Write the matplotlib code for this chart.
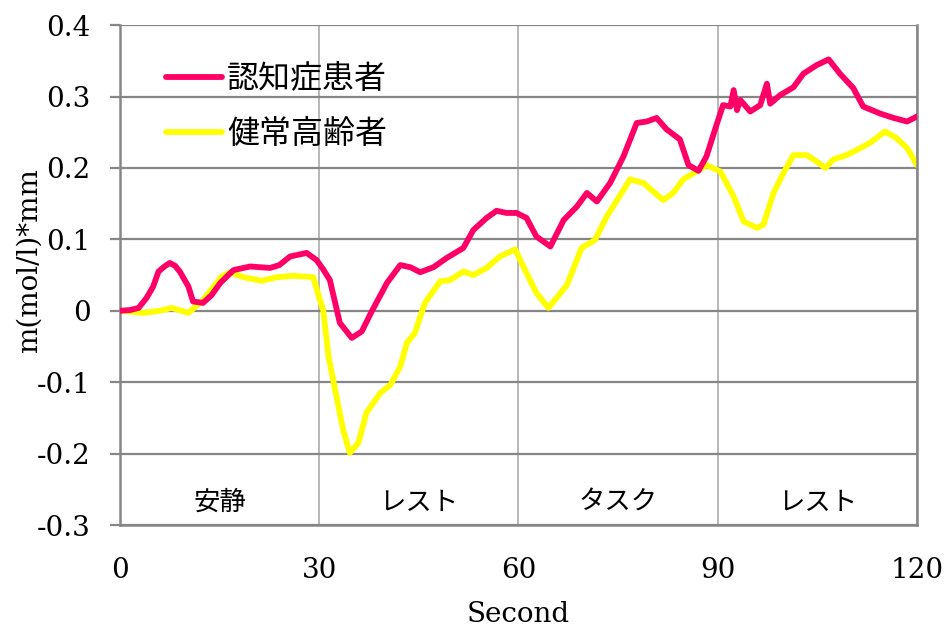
import matplotlib
matplotlib.use("Agg")
import matplotlib.pyplot as plt
import matplotlib.transforms as mtransforms

plt.rcParams["font.family"] = ["DejaVu Serif", "Noto Sans CJK JP", "DejaVu Sans"]

# time (s) / signal for each group
patient_t = [0, 1.5, 2.8, 4.0, 5.0, 5.8, 6.7, 7.5, 8.3, 9.0, 10.3, 11.0, 12.5, 13.8,
             15.1, 17.1, 19.6, 22.6, 24.0, 25.6, 28.1, 29.6, 30.6, 31.6, 33.1, 34.9,
             36.4, 37.9, 40.2, 42.2, 43.7, 45.2, 47.2, 49.2, 51.7, 53.2, 55.2, 56.7,
             58.2, 59.7, 61.2, 62.7, 64.8, 66.8, 68.8, 70.3, 71.8, 73.8, 75.8, 77.8,
             79.3, 80.8, 82.3, 84.3, 85.6, 87.1, 88.3, 89.6, 90.8, 91.9, 92.4, 92.9,
             93.4, 94.9, 96.4, 97.4, 97.9, 99.4, 101.4, 102.9, 104.9, 106.7, 108.4,
             110.4, 111.9, 114.5, 116.5, 118.5, 120]
patient_y = [0, 0.001, 0.004, 0.018, 0.034, 0.055, 0.062, 0.067, 0.063, 0.055, 0.034,
             0.013, 0.011, 0.022, 0.039, 0.057, 0.062, 0.060, 0.064, 0.076, 0.081,
             0.071, 0.058, 0.043, -0.017, -0.038, -0.029, -0.001, 0.039, 0.064, 0.061,
             0.054, 0.061, 0.074, 0.088, 0.113, 0.130, 0.140, 0.137, 0.137, 0.130,
             0.104, 0.090, 0.127, 0.146, 0.165, 0.153, 0.179, 0.216, 0.263, 0.265,
             0.270, 0.254, 0.240, 0.204, 0.196, 0.216, 0.254, 0.288, 0.286, 0.309,
             0.281, 0.295, 0.279, 0.288, 0.318, 0.290, 0.302, 0.313, 0.332, 0.344,
             0.352, 0.332, 0.312, 0.286, 0.276, 0.270, 0.265, 0.272]

healthy_t = [0, 3.5, 6.0, 7.8, 10.3, 12.5, 15.3, 16.6, 18.6, 21.3, 23.6, 26.1, 29.1,
             30.1, 30.6, 31.4, 32.1, 33.6, 34.6, 35.9, 37.1, 39.2, 40.7, 42.2, 43.2,
             44.4, 45.9, 48.2, 49.7, 51.7, 53.2, 55.2, 57.2, 59.5, 61.2, 62.7, 64.5,
             67.3, 69.5, 71.5, 73.3, 76.8, 78.8, 81.8, 83.3, 84.8, 86.8, 88.3, 90.4,
             92.4, 93.9, 95.9, 96.9, 98.4, 99.9, 101.4, 103.4, 104.9, 106.2, 107.4,
             109.4, 110.9, 112.9, 115.2, 116.9, 118.5, 120]
healthy_y = [0, -0.003, 0, 0.004, -0.003, 0.015, 0.048, 0.054, 0.047, 0.042, 0.047,
             0.049, 0.047, 0.015, 0.001, -0.064, -0.097, -0.167, -0.199, -0.185,
             -0.143, -0.115, -0.104, -0.078, -0.045, -0.031, 0.011, 0.041, 0.043,
             0.055, 0.050, 0.060, 0.076, 0.086, 0.053, 0.025, 0.004, 0.036, 0.088,
             0.099, 0.132, 0.184, 0.179, 0.155, 0.165, 0.184, 0.195, 0.204, 0.195,
             0.160, 0.125, 0.116, 0.121, 0.165, 0.193, 0.218, 0.218, 0.209, 0.200,
             0.212, 0.218, 0.225, 0.235, 0.251, 0.242, 0.228, 0.204]

phase_names = ["安静", "レスト", "タスク", "レスト"]
phase_edges = [0, 30, 60, 90, 120]
y_ticks = [-0.3, -0.2, -0.1, 0, 0.1, 0.2, 0.3, 0.4]
y_tick_labels = ["-0.3", "-0.2", "-0.1", "0", "0.1", "0.2", "0.3", "0.4"]

fig = plt.figure(figsize=(9.47, 6.28), dpi=100)
ax = fig.add_axes([0.1267, 0.164, 0.8416, 0.796])

ax.plot(patient_t, patient_y, color="#ff0066", lw=4.2, label="認知症患者",
        solid_capstyle="round", solid_joinstyle="round", zorder=3)
ax.plot(healthy_t, healthy_y, color="#ffff00", lw=4.2, label="健常高齢者",
        solid_capstyle="round", solid_joinstyle="round", zorder=2)

ax.set_xlim(0, 120)
ax.set_ylim(-0.3, 0.4)
ax.set_xticks(phase_edges)
ax.set_yticks(y_ticks)
ax.set_yticklabels(y_tick_labels)

ax.grid(True, axis="y", color="#868686", lw=1.6)
ax.grid(True, axis="x", color="#b8b8b8", lw=1.4)
ax.set_axisbelow(True)

for side in ["left", "right", "bottom"]:
    ax.spines[side].set_color("#868686")
    ax.spines[side].set_linewidth(1.8)
ax.spines["top"].set_visible(False)

ax.tick_params(axis="y", direction="out", length=7, width=1.6, color="#868686",
               pad=14, labelsize=20)
ax.tick_params(axis="x", length=0, pad=23, labelsize=20)

ax.set_xlabel("Second", fontsize=20, labelpad=12)
ax.set_ylabel("m(mol/l)*mm", fontsize=20)
ax.yaxis.set_label_coords(-0.097, 0.53)

# phase names along the bottom of each 30 s block
trans = mtransforms.blended_transform_factory(ax.transData, ax.transAxes)
for i, name in enumerate(phase_names):
    mid = (phase_edges[i] + phase_edges[i + 1]) / 2
    ax.text(mid, 0.045, name, transform=trans, ha="center", va="center",
            fontsize=19, family=["Noto Sans CJK JP"])

ax.legend(loc="upper left", bbox_to_anchor=(0.022, 0.981), frameon=False,
          prop={"family": ["Noto Sans CJK JP"], "size": 23},
          handlelength=1.75, handletextpad=0.15, labelspacing=0.72)

fig.savefig("out.png", dpi=100)
